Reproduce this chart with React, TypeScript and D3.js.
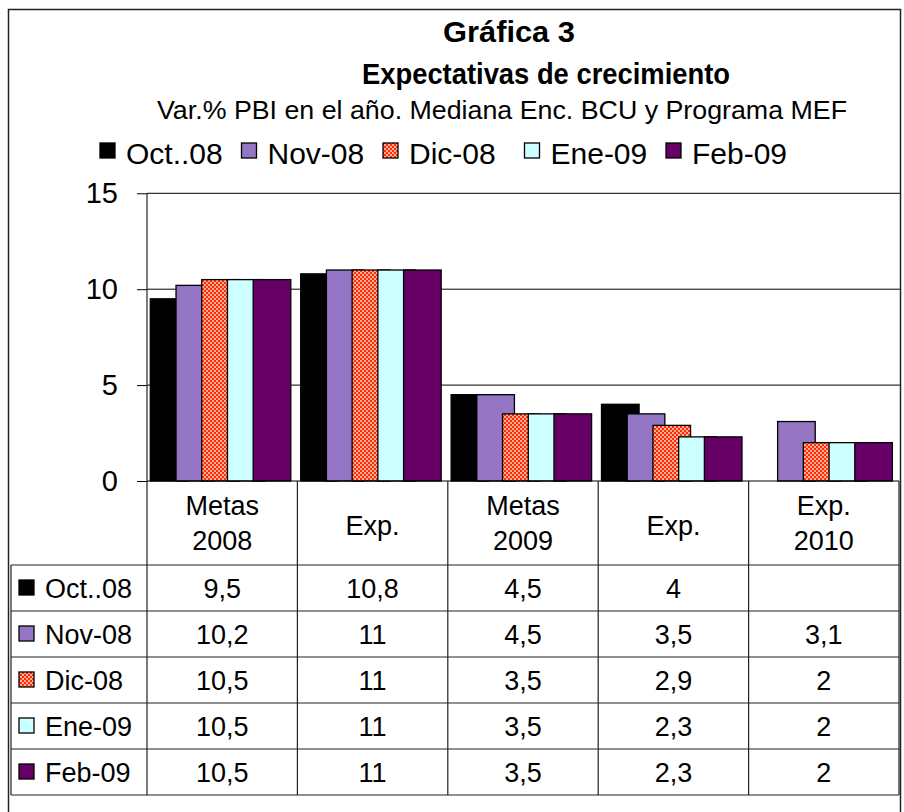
import React, { useEffect, useRef } from "react";
import * as d3 from "d3";

// categories on the x axis (two lines where the label has "\n")
const categories = ["Metas\n2008", "Exp.", "Metas\n2009", "Exp.", "Exp.\n2010"];
const seriesNames = ["Oct..08", "Nov-08", "Dic-08", "Ene-09", "Feb-09"];
const oct08 = [9.5, 10.8, 4.5, 4, null];
const nov08 = [10.2, 11, 4.5, 3.5, 3.1];
const dic08 = [10.5, 11, 3.5, 2.9, 2];
const ene09 = [10.5, 11, 3.5, 2.3, 2];
const feb09 = [10.5, 11, 3.5, 2.3, 2];
const yTicks = [0, 5, 10, 15];

const seriesValues = [oct08, nov08, dic08, ene09, feb09];
const seriesFills = ["#000000", "url(#pNov)", "url(#pDic)", "#CCFFFF", "#660066"];

const FONT = "'Liberation Sans', Arial, sans-serif";

const App = () => {
  const ref = useRef<SVGSVGElement>(null);

  useEffect(() => {
    document.body.style.margin = "0";
    const svg = d3.select(ref.current);
    svg.selectAll("*").remove();

    // patterns
    const defs = svg.append("defs");
    const pNov = defs.append("pattern").attr("id", "pNov")
      .attr("width", 2).attr("height", 2).attr("patternUnits", "userSpaceOnUse");
    pNov.append("rect").attr("width", 2).attr("height", 2).attr("fill", "#8484E0");
    pNov.append("rect").attr("width", 1).attr("height", 1).attr("fill", "#A468A8");
    pNov.append("rect").attr("x", 1).attr("y", 1).attr("width", 1).attr("height", 1).attr("fill", "#A468A8");
    const pDic = defs.append("pattern").attr("id", "pDic")
      .attr("width", 4).attr("height", 4).attr("patternUnits", "userSpaceOnUse");
    pDic.append("rect").attr("width", 4).attr("height", 4).attr("fill", "#FF2A08");
    pDic.append("rect").attr("width", 2).attr("height", 2).attr("fill", "#FFAE92");
    pDic.append("rect").attr("x", 2).attr("y", 2).attr("width", 2).attr("height", 2).attr("fill", "#FFAE92");

    // outer frame
    svg.append("rect").attr("x", 8.5).attr("y", 9.5).attr("width", 892).attr("height", 830)
      .attr("fill", "white").attr("stroke", "#222").attr("stroke-width", 1.5);

    // titles
    svg.append("text").attr("x", 509).attr("y", 42).attr("text-anchor", "middle")
      .attr("font-family", FONT).attr("font-weight", "bold").attr("font-size", 30)
      .attr("textLength", 132).attr("lengthAdjust", "spacingAndGlyphs")
      .text("Gráfica 3");
    svg.append("text").attr("x", 546).attr("y", 84).attr("text-anchor", "middle")
      .attr("font-family", FONT).attr("font-weight", "bold").attr("font-size", 30)
      .attr("textLength", 368).attr("lengthAdjust", "spacingAndGlyphs")
      .text("Expectativas de crecimiento");
    svg.append("text").attr("x", 502).attr("y", 119).attr("text-anchor", "middle")
      .attr("font-family", FONT).attr("font-size", 25)
      .attr("textLength", 690).attr("lengthAdjust", "spacingAndGlyphs")
      .text("Var.% PBI en el año. Mediana Enc. BCU y Programa  MEF");

    // scales
    const x = d3.scaleBand<number>().domain(d3.range(categories.length)).range([147, 899]).padding(0);
    const bw = x.bandwidth();
    const inner = d3.scaleLinear().domain([0, 4]).range([bw * 0.022, bw * 0.022 + 4 * bw * 0.171]);
    const barW = bw * 0.25;
    const y = d3.scaleLinear().domain([0, 15]).range([481, 193.3]);

    // gridlines
    svg.append("g").selectAll("line").data(yTicks.filter((t) => t > 0)).join("line")
      .attr("x1", 147).attr("x2", 900).attr("y1", (d) => y(d)).attr("y2", (d) => y(d))
      .attr("stroke", "#000").attr("stroke-width", 1);

    // y axis
    const yAxis = svg.append("g").attr("transform", "translate(147,0)")
      .call(d3.axisLeft(y).tickValues(yTicks).tickSize(10).tickPadding(19).tickFormat(d3.format("d")));
    yAxis.select(".domain").remove();
    yAxis.selectAll("line").attr("stroke", "#000");
    yAxis.selectAll("text").attr("font-family", FONT).attr("font-size", 29).attr("fill", "#000");

    // bars — later series drawn over earlier ones
    seriesValues.forEach((vals, si) => {
      svg.append("g").selectAll("rect")
        .data(vals.map((v, ci) => ({ v, ci })).filter((d) => d.v != null))
        .join("rect")
        .attr("x", (d) => (x(d.ci) as number) + inner(si))
        .attr("y", (d) => y(d.v as number))
        .attr("width", barW)
        .attr("height", (d) => y(0) - y(d.v as number))
        .attr("fill", seriesFills[si])
        .attr("stroke", "#000").attr("stroke-width", 1.3);
    });

    // table
    const rowTop = 565;
    const rowH = 46;
    const tableBottom = rowTop + rowH * seriesNames.length;
    const tbl = svg.append("g");
    tbl.append("line").attr("x1", 147).attr("x2", 899).attr("y1", 481).attr("y2", 481)
      .attr("stroke", "#000").attr("stroke-width", 1.2);
    tbl.append("line").attr("x1", 147).attr("x2", 147).attr("y1", 193).attr("y2", tableBottom)
      .attr("stroke", "#222").attr("stroke-width", 1.2);
    tbl.selectAll("line.v").data(d3.range(1, categories.length + 1)).join("line")
      .attr("class", "v")
      .attr("x1", (i) => 147 + i * bw).attr("x2", (i) => 147 + i * bw)
      .attr("y1", 481).attr("y2", tableBottom).attr("stroke", "#222").attr("stroke-width", 1.2);
    tbl.append("line").attr("x1", 11).attr("x2", 11).attr("y1", rowTop).attr("y2", tableBottom)
      .attr("stroke", "#222").attr("stroke-width", 1.2);
    tbl.selectAll("line.h").data(d3.range(0, seriesNames.length + 1)).join("line")
      .attr("class", "h")
      .attr("x1", 11).attr("x2", 899)
      .attr("y1", (i) => rowTop + i * rowH).attr("y2", (i) => rowTop + i * rowH)
      .attr("stroke", "#222").attr("stroke-width", 1.2);

    // header labels
    categories.forEach((c, ci) => {
      const lines = c.split("\n");
      const cx = (x(ci) as number) + bw / 2;
      const t = tbl.append("text").attr("text-anchor", "middle")
        .attr("font-family", FONT).attr("font-size", 27);
      if (lines.length === 1) {
        t.append("tspan").attr("x", cx).attr("y", 535).text(lines[0]);
      } else {
        t.append("tspan").attr("x", cx).attr("y", 515).text(lines[0]);
        t.append("tspan").attr("x", cx).attr("y", 550).text(lines[1]);
      }
    });

    // data rows
    seriesNames.forEach((name, si) => {
      const cy = rowTop + si * rowH + rowH / 2;
      tbl.append("rect").attr("x", 19).attr("y", cy - 8).attr("width", 15).attr("height", 15)
        .attr("fill", seriesFills[si]).attr("stroke", "#000").attr("stroke-width", 1.3);
      tbl.append("text").attr("x", 45).attr("y", cy + 9.5)
        .attr("font-family", FONT).attr("font-size", 27).text(name);
      seriesValues[si].forEach((v, ci) => {
        if (v == null) return;
        tbl.append("text").attr("x", (x(ci) as number) + bw / 2).attr("y", cy + 9.5)
          .attr("text-anchor", "middle").attr("font-family", FONT).attr("font-size", 27)
          .text(String(v).replace(".", ","));
      });
    });

    // legend: evenly spaced entries
    const lx = d3.scalePoint<string>().domain(seriesNames).range([100, 666]);
    const lg = svg.append("g");
    seriesNames.forEach((name, si) => {
      lg.append("rect").attr("x", lx(name) as number).attr("y", 143).attr("width", 15).attr("height", 15)
        .attr("fill", seriesFills[si]).attr("stroke", "#000").attr("stroke-width", 1.3);
      lg.append("text").attr("x", (lx(name) as number) + 26).attr("y", 164)
        .attr("font-family", FONT).attr("font-size", 30).text(name);
    });
  }, []);

  return <svg ref={ref} width={904} height={812} style={{ display: "block" }} />;
};

export default App;
